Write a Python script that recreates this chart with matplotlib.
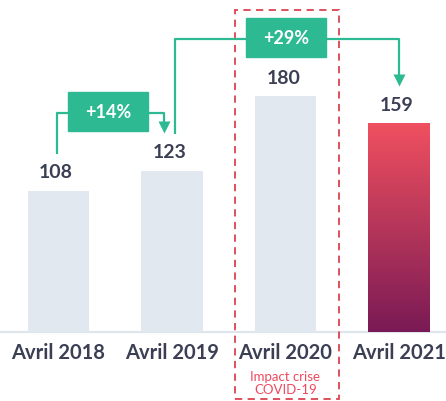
import numpy as np
import matplotlib
matplotlib.use("Agg")
import matplotlib.pyplot as plt
from matplotlib.colors import LinearSegmentedColormap
from matplotlib.patches import Rectangle

categories = ["Avril 2018", "Avril 2019", "Avril 2020", "Avril 2021"]
values = [108, 123, 180, 159]
growth = [(0, 1, "+14%"), (1, 3, "+29%")]
note = "Impact crise\nCOVID-19"

DARK = "#3b3f54"
GREEN = "#2dba92"
GREY = "#e1e8ef"
RED = "#d9434f"

plt.rcParams["font.family"] = ["Lato", "DejaVu Sans"]

fig = plt.figure(figsize=(4.46, 4.02), dpi=100)
ax = fig.add_axes([0, 0, 1, 1])
ax.axis("off")

x = np.arange(len(values))
colors = [GREY, GREY, GREY, "none"]
bars = ax.bar(x, values, width=0.54, color=colors, zorder=2)

# gradient on the last bar
cmap = LinearSegmentedColormap.from_list("g", ["#7a1a55", "#b5365a", "#f0505f"])
b = bars[-1]
grad = np.linspace(0, 1, 256).reshape(-1, 1)
ax.imshow(grad, cmap=cmap, origin="lower", aspect="auto", zorder=2,
          extent=[b.get_x(), b.get_x() + b.get_width(), 0, b.get_height()])
ax.set_xlim(-0.515, 3.414)
ax.set_ylim(-52.7, 254.2)

# baseline
ax.axhline(0, color="#dfe5ec", lw=1.6, zorder=1)

for xi, v in zip(x, values):
    ax.text(xi - 0.02, v + 14.5, str(v), ha="center", va="center",
            fontsize=14, fontweight="bold", color=DARK)

for xi, c in zip(x, categories):
    ax.text(xi, -15, c, ha="center", va="center", fontsize=14.5,
            fontweight="bold", color=DARK)

# dashed box around 2020
ax.add_patch(Rectangle((1.555, -51.1), 0.916, 296.9, fill=False,
                       ec=RED, lw=1.3, ls=(0, (4, 3)), zorder=3))
ax.text(2.0, -38.5, note, ha="center", va="center", fontsize=9.5,
        color="#ee4a5e", linespacing=1.15)

# growth connectors
for i0, i1, lab in growth:
    level = max(values[i0:i1 + 1]) + 44
    xs0 = x[i0] - 0.01 if i0 == 0 else x[i0] + 0.03
    xs1 = x[i1] - 0.07 if i1 == 1 else x[i1]
    tip = values[i1] + 30
    ax.plot([xs0, xs0, xs1, xs1], [values[i0] + 28, level, level, tip + 5],
            color=GREEN, lw=1.6, solid_capstyle="butt", zorder=4)
    ax.plot(xs1, tip + 3.5, marker="v", ms=9, color=GREEN, mec="none", zorder=4)
    cx = 0.436 if i1 == 1 else 2.004
    ax.add_patch(Rectangle((cx - 0.352, level - 14.9 + 1), 0.705, 29.8,
                           color=GREEN, zorder=5))
    ax.text(cx, level + 1, lab, ha="center", va="center", fontsize=13,
            fontweight="bold", color="white", zorder=6)

fig.savefig("out.png", dpi=100)
